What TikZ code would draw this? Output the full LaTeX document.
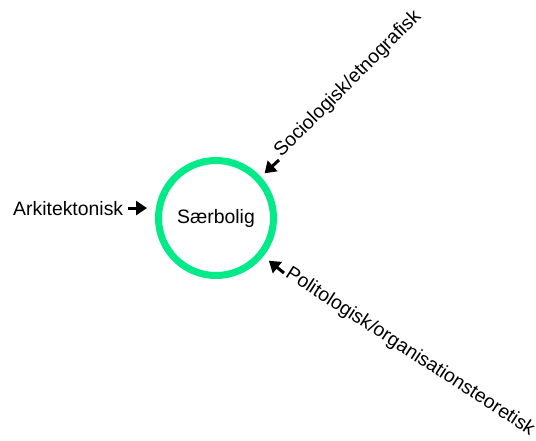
\documentclass[tikz,border=0pt]{standalone}
\usepackage{fontspec}
\setmainfont{Liberation Sans}
\usetikzlibrary{arrows.meta, positioning}
\definecolor{ringgreen}{RGB}{0,234,135}
\tikzset{>={Triangle[length=11pt,width=14pt]}}

\begin{document}
\begin{tikzpicture}[x=1pt, y=-1pt, font=\fontsize{19.4}{23}\selectfont,
    lbl/.style={inner sep=2pt},
    pil/.style={->, line width=3pt}]
  \useasboundingbox (0,0) rectangle (536,441);

  \node[circle, draw=ringgreen, line width=7pt, minimum size=115pt, inner sep=0pt] (C) at (216,218) {Særbolig};

  \node[lbl, anchor=base west] (A) at (11,215) {Arkitektonisk};
  \node[lbl, rotate=45] (S) at (348,84) {Sociologisk/etnografisk};
  \node[lbl, rotate=-33] (P) at (410,352) {Politologisk/organisationsteoretisk};

  \coordinate (S0) at (279,160);
  \coordinate (P0) at (284,273);

  \draw [pil, shorten <=3pt, shorten >=8pt] (A.east) -- (A.east -| C.west);
  \draw [pil, shorten >=5pt] (S0) -- (C);
  \draw [pil, shorten >=7pt] (P0) -- (C);
\end{tikzpicture}
\end{document}
